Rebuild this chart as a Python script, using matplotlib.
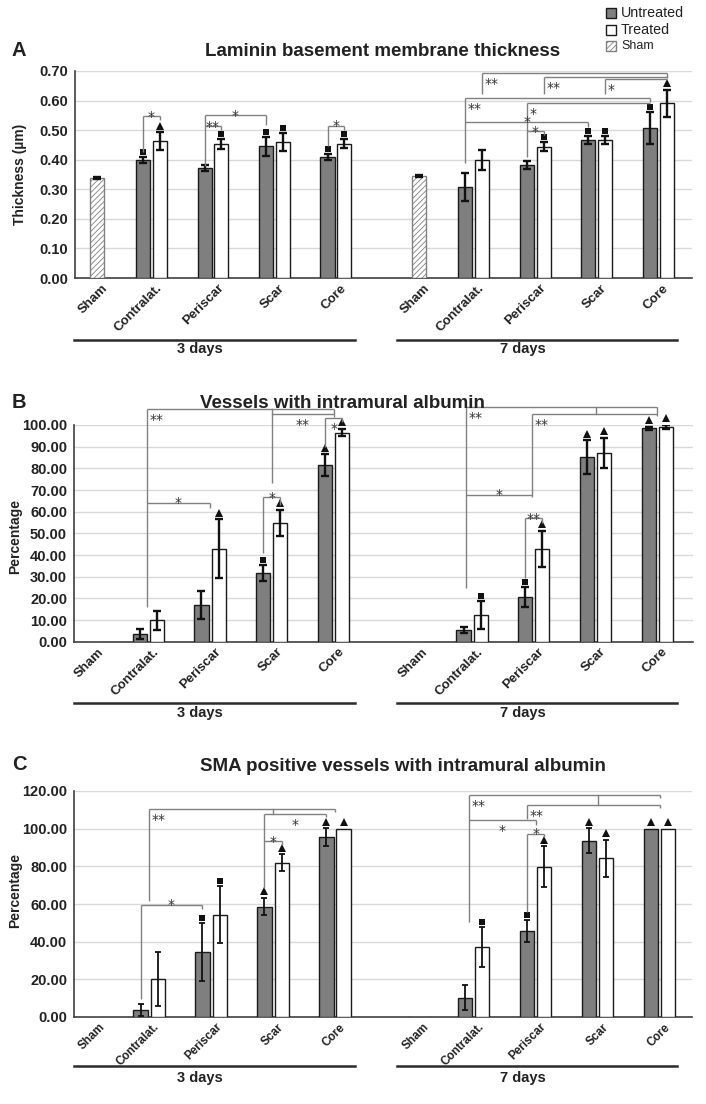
import matplotlib
matplotlib.use('Agg')
import matplotlib.pyplot as plt
import numpy as np
from matplotlib.transforms import ScaledTranslation
from matplotlib.patches import Rectangle
from matplotlib.lines import Line2D

plt.rcParams['font.family'] = ['Liberation Sans', 'DejaVu Sans']
plt.rcParams['hatch.linewidth'] = 0.6

W, H, DPI = 706, 1104, 100

# ------------------------------------------------------------------ data
categories = ['Sham', 'Contralat.', 'Periscar', 'Scar', 'Core']
pair_categories = ['Contralat.', 'Periscar', 'Scar', 'Core']
group_labels = ['3 days', '7 days']
legend_labels = ['Untreated', 'Treated', 'Sham']

# Panel A  - Laminin basement membrane thickness (µm)
A_title = 'Laminin basement membrane thickness'
A_ylabel = 'Thickness (µm)'
A_yticks = [0.00, 0.10, 0.20, 0.30, 0.40, 0.50, 0.60, 0.70]
A_sham = [0.338, 0.344]
A_sham_err = [0.004, 0.004]
A_untr_3d = [0.400, 0.372, 0.445, 0.409]
A_untr_3d_err = [0.010, 0.010, 0.031, 0.011]
A_trt_3d = [0.463, 0.453, 0.460, 0.454]
A_trt_3d_err = [0.030, 0.017, 0.031, 0.016]
A_untr_7d = [0.308, 0.383, 0.467, 0.507]
A_untr_7d_err = [0.046, 0.013, 0.014, 0.054]
A_trt_7d = [0.400, 0.444, 0.466, 0.591]
A_trt_7d_err = [0.034, 0.015, 0.013, 0.045]
A_mk_untr_3d = ['s', '', 's', 's']
A_mk_trt_3d = ['^', 's', 's', 's']
A_mk_untr_7d = ['', '', 's', 's']
A_mk_trt_7d = ['', 's', 's', '^']

# Panel B - Vessels with intramural albumin (%)
B_title = 'Vessels with intramural albumin'
B_ylabel = 'Percentage'
B_yticks = [0, 10, 20, 30, 40, 50, 60, 70, 80, 90, 100]
B_sham = [0.0, 0.0]
B_sham_err = [0.0, 0.0]
B_untr_3d = [3.4, 17.0, 31.7, 81.5]
B_untr_3d_err = [2.3, 6.5, 3.6, 5.1]
B_trt_3d = [9.9, 43.0, 55.0, 96.5]
B_trt_3d_err = [4.4, 13.4, 6.0, 1.7]
B_untr_7d = [5.4, 20.6, 85.2, 98.5]
B_untr_7d_err = [1.6, 4.5, 7.8, 0.8]
B_trt_7d = [12.4, 43.0, 87.1, 99.2]
B_trt_7d_err = [6.4, 8.3, 7.1, 1.0]
B_mk_untr_3d = ['', '', 's', '^']
B_mk_trt_3d = ['', '^', '^', '^']
B_mk_untr_7d = ['', 's', '^', '^']
B_mk_trt_7d = ['s', '^', '^', '^']

# Panel C - SMA positive vessels with intramural albumin (%)
C_title = 'SMA positive vessels with intramural albumin'
C_ylabel = 'Percentage'
C_yticks = [0, 20, 40, 60, 80, 100, 120]
C_sham = [0.0, 0.0]
C_sham_err = [0.0, 0.0]
C_untr_3d = [3.7, 34.5, 58.6, 95.4]
C_untr_3d_err = [3.1, 15.3, 4.7, 4.7]
C_trt_3d = [20.2, 54.4, 81.9, 100.0]
C_trt_3d_err = [14.5, 15.3, 4.6, 0.0]
C_untr_7d = [10.2, 45.6, 93.7, 100.0]
C_untr_7d_err = [6.6, 6.0, 6.4, 0.0]
C_trt_7d = [37.3, 79.9, 84.2, 100.0]
C_trt_7d_err = [10.7, 10.7, 9.8, 0.0]
C_mk_untr_3d = ['', 's', '^', '^']
C_mk_trt_3d = ['', 's', '^', '^']
C_mk_untr_7d = ['', 's', '^', '^']
C_mk_trt_7d = ['s', '^', '^', '^']

# ---------------------------------------------------------------- layout
GROUP_SHIFT = 5.24
SHAM_POS = 0.115
OFF = 0.138
BW = 0.228
UNTR_COLOR = '#7f7f7f'
EDGE = '#1a1a1a'
TXT = '#222222'
BRK = '#808080'


def catpos(g, cat):
    if cat == 'Sham':
        return SHAM_POS + g * GROUP_SHIFT
    return pair_categories.index(cat) + 1 + g * GROUP_SHIFT


def X(g, cat, s='C', d=0.0):
    o = {'U': -OFF, 'T': OFF, 'C': 0.0}[s]
    return catpos(g, cat) + o + d


fig = plt.figure(figsize=(W / DPI, H / DPI), dpi=DPI)


def fx(px):
    return px / W


def fy(py):
    return 1 - py / H


def px_off(ax, dx, dy):
    return ax.transData + ScaledTranslation(dx / DPI, dy / DPI, fig.dpi_scale_trans)


def make_axes(rect_px, xlim, ylim, yticks, fmt, elw, cap, xfs):
    l, t, r, b = rect_px
    ax = fig.add_axes([fx(l), fy(b), (r - l) / W, (b - t) / H])
    ax.set_xlim(*xlim)
    ax.set_ylim(*ylim)
    ax.set_yticks(yticks)
    ax.set_yticklabels([fmt % v for v in yticks], fontsize=10.5, fontweight='bold', color=TXT)
    for sp in ['top', 'right']:
        ax.spines[sp].set_visible(False)
    ax.spines['left'].set_color('#404040')
    ax.spines['bottom'].set_color('#404040')
    ax.spines['left'].set_linewidth(1.2)
    ax.spines['bottom'].set_linewidth(1.2)
    ax.tick_params(axis='y', length=0, pad=5)
    ax.tick_params(axis='x', length=0, pad=3)
    ax.yaxis.grid(True, color='#d9d9d9', lw=1.0)
    ax.set_axisbelow(True)
    ticks = [catpos(g, c) + 0.07 for g in (0, 1) for c in categories]
    ax.set_xticks(ticks)
    ax.set_xticklabels(categories * 2, rotation=45, ha='right', va='top',
                       rotation_mode='anchor', fontsize=xfs, fontweight='bold', color=TXT)
    ax._elw = elw
    ax._cap = cap
    return ax


def draw_bars(ax, sham, sham_err, untr, untr_err, trt, trt_err, mk_untr, mk_trt):
    ekw = dict(fmt='none', ecolor='#111111', elinewidth=ax._elw, capsize=ax._cap,
               capthick=ax._elw, zorder=4)
    for g in (0, 1):
        sx = catpos(g, 'Sham')
        ax.bar([sx], [sham[g]], BW, color='white', edgecolor='#808080', hatch='//////',
               lw=1.0, zorder=3)
        if sham_err[g] > 0:
            ax.errorbar([sx], [sham[g]], yerr=[sham_err[g]], **ekw)
        cx = np.array([catpos(g, c) for c in pair_categories])
        ax.bar(cx - OFF, untr[g], BW, color=UNTR_COLOR, edgecolor=EDGE, lw=1.0, zorder=3)
        ax.bar(cx + OFF, trt[g], BW, color='white', edgecolor=EDGE, lw=1.0, zorder=3)
        for xs, v, e in ((cx - OFF, untr[g], untr_err[g]), (cx + OFF, trt[g], trt_err[g])):
            v = np.asarray(v); e = np.asarray(e)
            m = e > 0
            if m.any():
                ax.errorbar(xs[m], v[m], yerr=e[m], **ekw)
        for xs, v, e, mks in ((cx - OFF, untr[g], untr_err[g], mk_untr[g]),
                              (cx + OFF, trt[g], trt_err[g], mk_trt[g])):
            for xi, vi, ei, mk in zip(xs, v, e, mks):
                if not mk:
                    continue
                dy = 5.0 if mk == 's' else 6.5
                ms = 4.0 if mk == 's' else 5.5
                ax.plot([xi], [vi + ei], marker=mk, ms=ms, color='#111111', mew=0,
                        transform=px_off(ax, 0, dy), clip_on=False, zorder=5)


def bracket(ax, x1, x2, y, b1, b2, text, mode):
    kw = dict(color=BRK, lw=1.0, clip_on=False, zorder=6, solid_capstyle='butt')
    ax.plot([x1, x2], [y, y], **kw)
    if b1 is not None:
        ax.plot([x1, x1], [y, b1], **kw)
    if b2 is not None:
        ax.plot([x2, x2], [y, b2], **kw)
    tk = dict(fontsize=10, color='#333333', family='DejaVu Sans', va='baseline',
              clip_on=False, zorder=7)
    if mode == 'a':
        ax.text((x1 + x2) / 2, y, text, ha='center', transform=px_off(ax, 0, -4.5), **tk)
    elif mode == 'bl':
        ax.text(x1, y, text, ha='left', transform=px_off(ax, 2.5, -15.0), **tk)
    else:
        ax.text((x1 + x2) / 2, y, text, ha='center', transform=px_off(ax, 0, -15.0), **tk)


def tick(ax, x, y0, y1):
    ax.plot([x, x], [y0, y1], color=BRK, lw=1.0, clip_on=False, zorder=6)


# ---------------------------------------------------------------- Panel A
axA = make_axes((75, 71, 692, 278), (-0.244, 9.789), (0, 0.70), A_yticks, '%.2f', 1.7, 3.0, 9.5)
draw_bars(axA, A_sham, A_sham_err, [A_untr_3d, A_untr_7d], [A_untr_3d_err, A_untr_7d_err],
          [A_trt_3d, A_trt_7d], [A_trt_3d_err, A_trt_7d_err],
          [A_mk_untr_3d, A_mk_untr_7d], [A_mk_trt_3d, A_mk_trt_7d])
A_brackets = [
    (X(0, 'Contralat.', 'U'), X(0, 'Contralat.', 'T'), 0.547, 0.427, 0.534, '*', 'a'),
    (X(0, 'Periscar', 'U'), X(0, 'Periscar', 'T'), 0.514, 0.380, 0.500, '**', 'a'),
    (X(0, 'Periscar', 'U'), X(0, 'Scar', 'U'), 0.550, 0.514, 0.517, '*', 'a'),
    (X(0, 'Core', 'U'), X(0, 'Core', 'T'), 0.515, 0.447, 0.500, '*', 'a'),
    (X(1, 'Contralat.', 'T'), X(1, 'Core', 'T'), 0.694, 0.622, 0.675, '**', 'bl'),
    (X(1, 'Periscar', 'T'), X(1, 'Core', 'T'), 0.681, 0.622, None, '**', 'bl'),
    (X(1, 'Scar', 'T'), X(1, 'Core', 'T'), 0.673, 0.622, None, '*', 'bl'),
    (X(1, 'Contralat.', 'U'), X(1, 'Core', 'U'), 0.610, 0.390, 0.596, '**', 'bl'),
    (X(1, 'Periscar', 'U'), X(1, 'Core', 'U'), 0.593, 0.410, None, '*', 'bl'),
    (X(1, 'Contralat.', 'U'), X(1, 'Scar', 'U'), 0.528, None, 0.512, '*', 'a'),
    (X(1, 'Periscar', 'U'), X(1, 'Periscar', 'T'), 0.497, None, 0.484, '*', 'a'),
]
for b in A_brackets:
    bracket(axA, *b)

# ---------------------------------------------------------------- Panel B
axB = make_axes((74, 425, 693, 641.7), (-0.201, 9.815), (0, 100), B_yticks, '%.2f', 1.7, 3.0, 9.5)
draw_bars(axB, B_sham, B_sham_err, [B_untr_3d, B_untr_7d], [B_untr_3d_err, B_untr_7d_err],
          [B_trt_3d, B_trt_7d], [B_trt_3d_err, B_trt_7d_err],
          [B_mk_untr_3d, B_mk_untr_7d], [B_mk_trt_3d, B_mk_trt_7d])
B_brackets = [
    (X(0, 'Contralat.', 'C', -0.025), X(0, 'Core', 'C'), 107.2, 16.2, 103.9, '**', 'bl'),
    (X(0, 'Scar', 'C'), X(0, 'Core', 'C'), 105.1, 73.1, None, '**', 'bc'),
    (X(0, 'Core', 'U'), X(0, 'Core', 'T'), 103.1, 90.0, 101.5, '*', 'bc'),
    (X(0, 'Scar', 'U'), X(0, 'Scar', 'T'), 66.6, 41.0, 63.0, '*', 'a'),
    (X(0, 'Contralat.', 'C', -0.025), X(0, 'Periscar', 'C'), 64.2, None, 61.6, '*', 'a'),
    (X(1, 'Contralat.', 'C', -0.09), X(1, 'Core', 'C'), 108.2, 24.6, 104.2, '**', 'bl'),
    (X(1, 'Periscar', 'C', -0.035), X(1, 'Core', 'C'), 105.1, 66.9, None, '**', 'bl'),
    (X(1, 'Contralat.', 'C', -0.09), X(1, 'Periscar', 'C', -0.035), 67.7, None, None, '*', 'a'),
    (X(1, 'Periscar', 'U'), X(1, 'Periscar', 'T'), 56.9, 29.5, 55.0, '**', 'a'),
]
for b in B_brackets:
    bracket(axB, *b)
tick(axB, X(0, 'Scar', 'C'), 105.1, 107.2)
tick(axB, X(1, 'Scar', 'C'), 105.1, 108.2)

# ---------------------------------------------------------------- Panel C
axC = make_axes((74, 791, 692, 1017), (-0.211, 9.760), (0, 120), C_yticks, '%.2f', 1.3, 2.5, 8.5)
draw_bars(axC, C_sham, C_sham_err, [C_untr_3d, C_untr_7d], [C_untr_3d_err, C_untr_7d_err],
          [C_trt_3d, C_trt_7d], [C_trt_3d_err, C_trt_7d_err],
          [C_mk_untr_3d, C_mk_untr_7d], [C_mk_trt_3d, C_mk_trt_7d])
C_brackets = [
    (X(0, 'Contralat.', 'C'), X(0, 'Core', 'C'), 110.7, 61.8, 108.8, '**', 'bl'),
    (X(0, 'Scar', 'U'), X(0, 'Core', 'U'), 108.0, 68.6, 106.2, '*', 'bc'),
    (X(0, 'Scar', 'U'), X(0, 'Scar', 'T'), 93.2, None, 91.5, '*', 'a'),
    (X(0, 'Contralat.', 'U'), X(0, 'Periscar', 'U'), 59.5, 9.4, 57.2, '*', 'a'),
    (X(1, 'Contralat.', 'C', -0.08), X(1, 'Core', 'C'), 118.1, 50.7, 116.3, '**', 'bl'),
    (X(1, 'Periscar', 'U'), X(1, 'Core', 'C'), 112.8, 105.3, 111.0, '**', 'bl'),
    (X(1, 'Contralat.', 'C', -0.08), X(1, 'Periscar', 'C'), 104.4, None, 102.1, '*', 'bc'),
    (X(1, 'Periscar', 'U'), X(1, 'Periscar', 'T'), 97.3, 55.6, 95.5, '*', 'a'),
]
for b in C_brackets:
    bracket(axC, *b)
tick(axC, X(0, 'Scar', 'C'), 108.0, 110.7)
tick(axC, X(1, 'Scar', 'C'), 112.8, 118.1)

# ---------------------------------------------------------------- texts
panels = [
    ('A', A_title, A_ylabel, 55.7, 383, 55.7, (20, 174.5), 340, 353.5),
    ('B', B_title, B_ylabel, 408.3, 342, 407.5, (15, 537), 703.3, 716.7),
    ('C', C_title, C_ylabel, 770, 403, 771, (15.5, 890), 1066, 1082),
]
for letter, title, ylabel, ly, tx, ty, ylp, line_y, lab_y in panels:
    fig.text(fx(19), fy(ly), letter, fontsize=14.5, fontweight='bold', color=TXT,
             ha='center', va='baseline')
    fig.text(fx(tx), fy(ty), title, fontsize=13.5, fontweight='bold', color=TXT,
             ha='center', va='baseline')
    fig.text(fx(ylp[0]), fy(ylp[1]), ylabel, fontsize=10, fontweight='bold', color=TXT,
             ha='center', va='center', rotation=90)
    for (x0, x1, cx), lab in zip([(74, 355, 200), (397, 677, 523)], group_labels):
        fig.add_artist(Line2D([fx(x0), fx(x1)], [fy(line_y), fy(line_y)], color='#2b2b2b',
                              lw=1.8, transform=fig.transFigure))
        fig.text(fx(cx), fy(lab_y), lab, fontsize=10.5, fontweight='bold', color=TXT,
                 ha='center', va='baseline')

# ---------------------------------------------------------------- legend
leg_rows = [13.3, 30.0, 45.8]
leg_styles = [dict(facecolor=UNTR_COLOR, edgecolor=EDGE),
              dict(facecolor='white', edgecolor=EDGE),
              dict(facecolor='white', edgecolor='#808080', hatch='//////')]
leg_sizes = [10.3, 10.3, 9.0]
for yc, lab, st, fs in zip(leg_rows, legend_labels, leg_styles, leg_sizes):
    fig.add_artist(Rectangle((fx(606), fy(yc + 5)), 10 / W, 10 / H, lw=1.0,
                             transform=fig.transFigure, **st))
    fig.text(fx(621), fy(yc), lab, fontsize=fs, color=TXT, ha='left', va='center')

fig.savefig('out.png', dpi=DPI)
